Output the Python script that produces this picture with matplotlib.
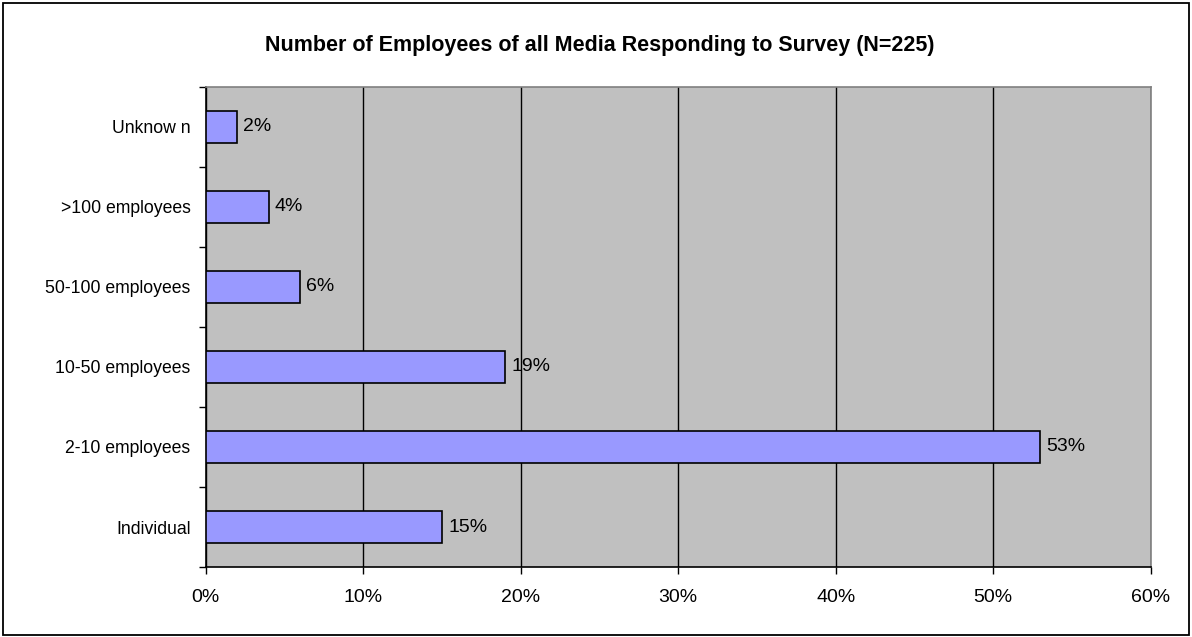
import matplotlib
matplotlib.use("Agg")
import matplotlib.pyplot as plt
from matplotlib.patches import Rectangle
from matplotlib.ticker import FixedLocator

plt.rcParams['font.family'] = ['Liberation Sans', 'DejaVu Sans']

categories = ["Individual", "2-10 employees", "10-50 employees",
              "50-100 employees", ">100 employees", "Unknow n"]
values = [15, 53, 19, 6, 4, 2]
x_ticks = [0, 10, 20, 30, 40, 50, 60]
x_tick_labels = ["0%", "10%", "20%", "30%", "40%", "50%", "60%"]
title = "Number of Employees of all Media Responding to Survey (N=225)"

W, H = 1192, 637
fig = plt.figure(figsize=(W / 100, H / 100), dpi=100)

# outer chart border
fig.patches.append(Rectangle((3 / W, 2 / H), 1186 / W, 632 / H,
                             transform=fig.transFigure, fill=False,
                             edgecolor='black', linewidth=1.3))

left, right, top, bottom = 205.7, 1150.7, 87, 567
ax = fig.add_axes([left / W, 1 - bottom / H, (right - left) / W, (bottom - top) / H])
ax.set_facecolor('#C0C0C0')

ypos = list(range(len(categories)))
ax.barh(ypos, values, height=0.39, color='#9999FF', edgecolor='black',
        linewidth=1.2, zorder=3)
for y, v in zip(ypos, values):
    ax.annotate(f"{v}%", (v, y), xytext=(4.5, 0), textcoords='offset points',
                va='center', ha='left', fontsize=14, zorder=4)

ax.set_xlim(0, 60)
ax.set_ylim(-0.5, len(categories) - 0.5)
ax.set_xticks(x_ticks)
ax.set_xticklabels(x_tick_labels, fontsize=14)
ax.set_yticks(ypos)
ax.set_yticklabels(categories, fontsize=12.7)
ax.yaxis.set_minor_locator(FixedLocator([i - 0.5 for i in range(len(categories) + 1)]))

ax.tick_params(axis='y', which='major', length=0, pad=11)
ax.tick_params(axis='y', which='minor', length=5, width=1, direction='out')
ax.tick_params(axis='x', which='major', length=5, width=1, direction='out', pad=11)

ax.grid(axis='x', color='black', linewidth=1, zorder=1)
ax.set_axisbelow(True)

for s in ['left', 'bottom']:
    ax.spines[s].set_color('black')
    ax.spines[s].set_linewidth(1.2)
for s in ['top', 'right']:
    ax.spines[s].set_color('#808080')
    ax.spines[s].set_linewidth(1.2)

fig.text(600 / W, 1 - 45 / H, title, ha='center', va='center',
         fontsize=15.5, fontweight='bold')

fig.savefig("out.png", dpi=100)
